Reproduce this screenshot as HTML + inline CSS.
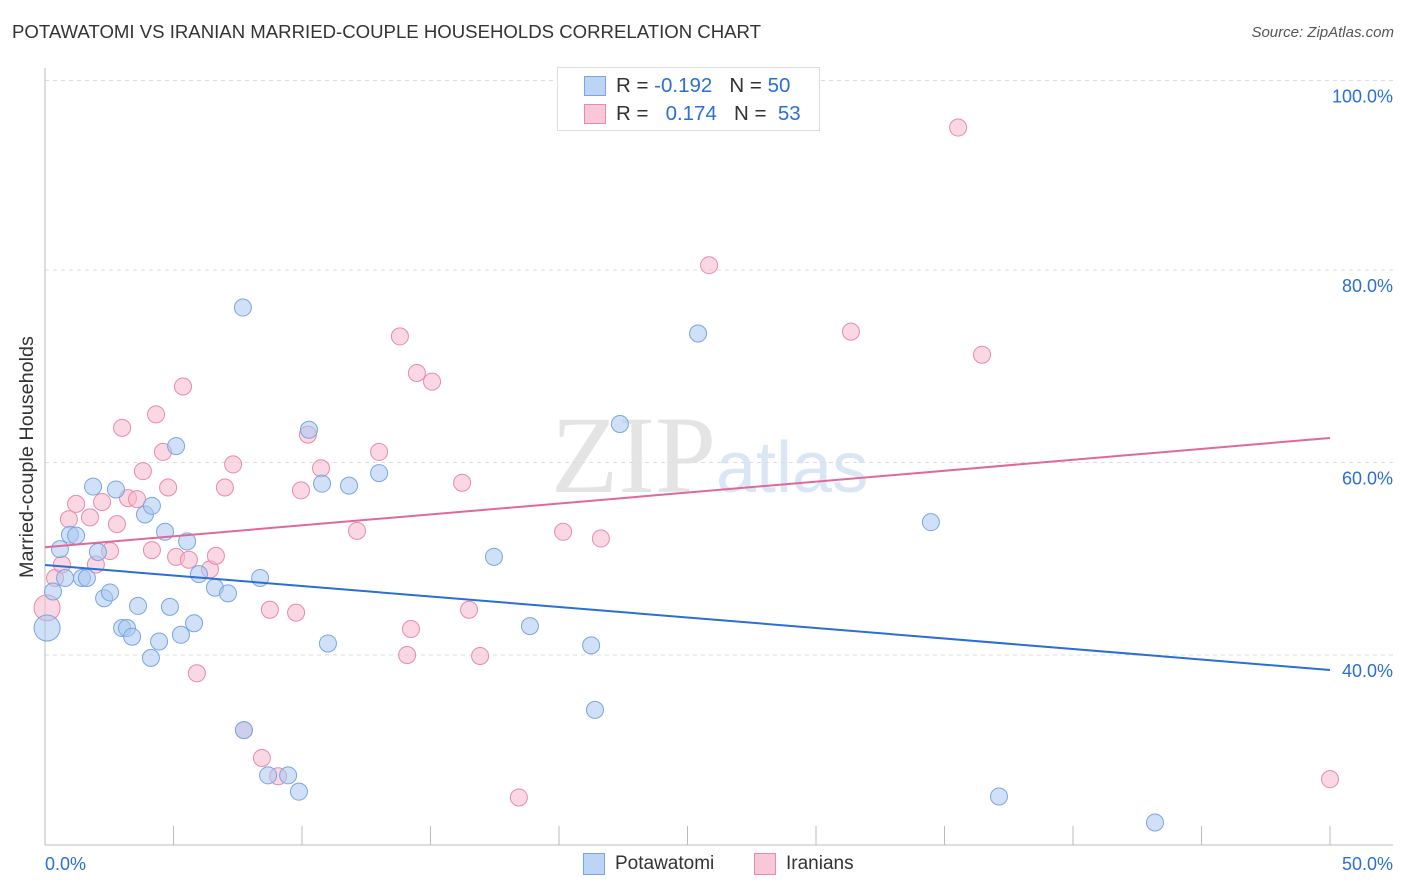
<!DOCTYPE html>
<html><head><meta charset="utf-8"><style>
body{margin:0;background:#fff;font-family:"Liberation Sans",sans-serif}
#wrap{position:relative;width:1406px;height:892px;overflow:hidden}
.t{position:absolute;white-space:nowrap}
</style></head><body>
<div id="wrap">
<div class="t" style="left:12px;top:21px;font-size:18.6px;color:#333">POTAWATOMI VS IRANIAN MARRIED-COUPLE HOUSEHOLDS CORRELATION CHART</div>
<div class="t" style="right:12px;top:24px;font-size:15px;color:#555;font-style:italic">Source: ZipAtlas.com</div>
<div class="t" style="left:16px;top:578px;font-size:19.8px;color:#333;transform:rotate(-90deg);transform-origin:0 0">Married-couple Households</div>
<svg id="svg" width="1406" height="892" style="position:absolute;left:0;top:0"></svg>
<div style="position:absolute;left:557px;top:67px;width:261px;height:62px;border:1px solid #ddd;background:#fff;font-size:20.5px">
<div style="position:absolute;left:26px;top:8px;width:20px;height:18px;background:#bcd4f5;border:1px solid #7aa5e0"></div>
<div class="t" style="left:58px;top:6px;color:#333">R = <span style="color:#2a6fd6">-0.192</span>&nbsp;&nbsp;&nbsp;N = <span style="color:#2a6fd6">50</span></div>
<div style="position:absolute;left:26px;top:36px;width:20px;height:18px;background:#f8c8d8;border:1px solid #e88aab"></div>
<div class="t" style="left:58px;top:34px;color:#333">R = &nbsp;&nbsp;<span style="color:#2a6fd6">0.174</span>&nbsp;&nbsp;&nbsp;N = &nbsp;<span style="color:#2a6fd6">53</span></div>
</div>
<div style="position:absolute;left:583px;top:853px;width:20px;height:20px;background:#bcd4f5;border:1px solid #7aa5e0"></div>
<div class="t" style="left:615px;top:853px;font-size:19px;color:#333">Potawatomi</div>
<div style="position:absolute;left:754px;top:853px;width:20px;height:20px;background:#f8c8d8;border:1px solid #e88aab"></div>
<div class="t" style="left:786px;top:853px;font-size:19px;color:#333">Iranians</div>
</div>
<script>
const yTicks=[100,80,60,40];
const xTickLabels=["0.0%","50.0%"];
const blueX=[0.08,0.31,0.58,0.78,0.97,1.21,1.44,1.63,1.87,2.06,2.30,2.53,2.76,3.00,3.19,3.39,3.62,3.89,4.12,4.16,4.44,4.67,4.86,5.10,5.29,5.53,5.80,5.99,6.61,7.12,7.70,8.37,8.68,9.46,9.88,10.27,10.78,11.01,11.83,13.00,17.47,18.87,21.25,21.40,22.37,25.41,34.47,37.12,43.19,7.74];
const blueY=[42.8,46.6,51.0,48.0,52.5,52.4,48.0,48.0,57.5,50.7,45.9,46.5,57.2,42.8,42.8,41.9,45.1,54.6,39.7,55.5,41.4,52.8,45.0,61.7,42.1,51.8,43.3,48.4,47.0,46.4,76.1,48.0,27.5,27.5,25.8,63.4,57.8,41.2,57.6,58.9,50.2,43.0,41.0,34.3,64.0,73.4,53.8,25.3,22.6,32.2];
const pinkX=[0.08,0.39,0.66,0.93,1.21,1.75,1.98,2.22,2.53,2.80,3.00,3.23,3.58,3.81,4.16,4.32,4.59,4.79,5.10,5.37,5.60,5.91,6.42,6.65,7.00,7.32,7.74,8.44,8.75,9.07,9.77,9.96,10.23,10.74,12.14,13.00,13.81,14.09,14.24,14.47,15.06,16.23,16.50,16.93,18.44,20.16,21.63,25.84,31.36,35.53,36.46,50.0];
const pinkY=[44.9,48.0,49.4,54.1,55.7,54.3,49.4,55.9,50.8,53.6,63.6,56.3,56.2,59.1,50.9,65.0,61.1,57.4,50.2,67.9,49.9,38.1,48.9,50.3,57.4,59.8,32.2,29.3,44.7,27.4,44.4,57.1,62.9,59.4,52.9,61.1,73.1,40.0,42.7,69.3,68.4,57.9,44.7,39.9,25.2,52.8,52.1,80.5,73.6,94.8,71.2,27.1];
const blueTrend=[49.35,38.44];
const pinkTrend=[51.2,62.55];
const X=v=>45+v*1285/50, Y=v=>655-(v-40)*9.625;
const svg=document.getElementById('svg');const NS='http://www.w3.org/2000/svg';
function mk(tag,attrs){const e=document.createElementNS(NS,tag);for(const k in attrs)e.setAttribute(k,attrs[k]);svg.appendChild(e);return e;}
let w=mk('text',{x:716,y:492,'font-size':110,'font-family':'Liberation Serif',fill:'#e4e4e4','text-anchor':'end'});w.textContent='ZIP';


w=mk('text',{x:716,y:492,'font-size':72,'font-family':'Liberation Sans',fill:'#dbe6f5'});w.textContent='atlas';


yTicks.forEach(v=>{const g=mk('line',{x1:45,x2:1393,y1:Y(v)+(v==100?3:0),y2:Y(v)+(v==100?3:0),stroke:'#ddd','stroke-dasharray':'4,4'});


const t=mk('text',{x:1393,y:Y(v)+(v==100?3:0)+22,'font-size':18,fill:'#2a6fd6','text-anchor':'end'});t.textContent=v.toFixed(1)+'%';

});
let a=mk('line',{x1:45,x2:45,y1:68,y2:845,stroke:'#bbb'});


a=mk('line',{x1:45,x2:1393,y1:845,y2:845,stroke:'#bbb'});


for(let i=0;i<=10;i++){const tk=mk('line',{x1:X(i*5),x2:X(i*5),y1:826,y2:845,stroke:'#bbb'});

}
xTickLabels.forEach((s,i)=>{const t=mk('text',{x:i?1393:45,y:870,'font-size':18,fill:'#2a6fd6','text-anchor':i?'end':'start'});t.textContent=s;

});
function pts(xs,ys,fill,stroke,name){xs.forEach((x,i)=>{const r=x<0.2?13:8.5;const c=mk('circle',{cx:X(x),cy:Y(ys[i]),r:r,fill:fill,'fill-opacity':0.55,stroke:stroke,'stroke-width':1});

});}
pts(pinkX,pinkY,'#f5b8cc','#e88aab','iranians-point');
pts(blueX,blueY,'#a9c8f0','#7aa5e0','potawatomi-point');
let l=mk('line',{x1:X(0),x2:X(50),y1:Y(blueTrend[0]),y2:Y(blueTrend[1]),stroke:'#2a6fd6','stroke-width':2});


l=mk('line',{x1:X(0),x2:X(50),y1:Y(pinkTrend[0]),y2:Y(pinkTrend[1]),stroke:'#e0689a','stroke-width':2});


</script>
</body></html>
